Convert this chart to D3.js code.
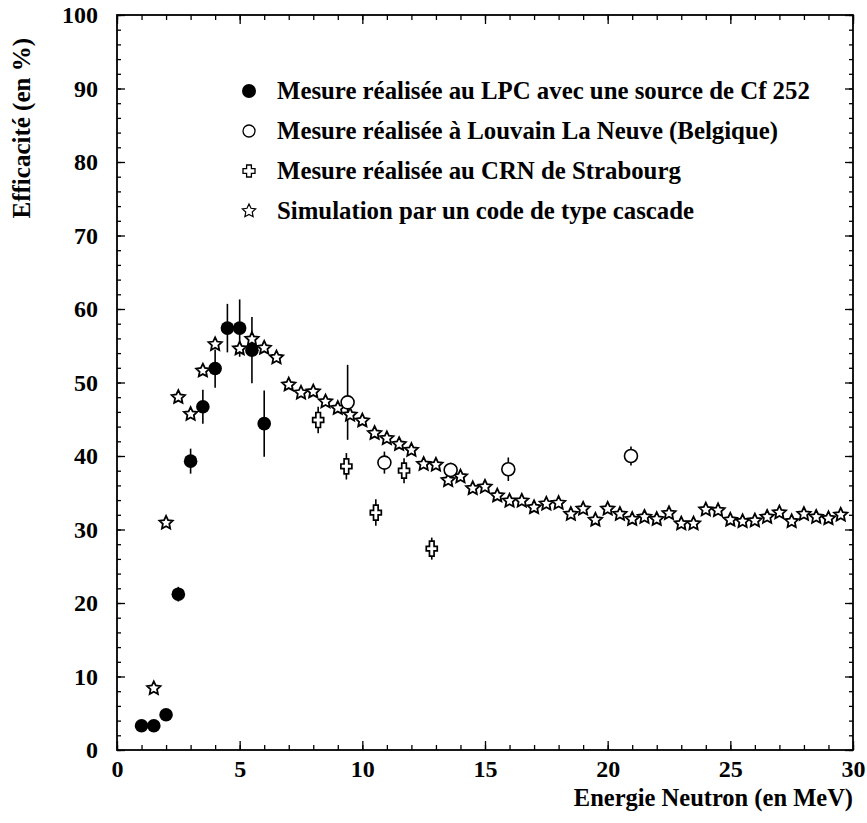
<!DOCTYPE html>
<html>
<head>
<meta charset="utf-8">
<script src="https://cdn.jsdelivr.net/npm/d3@7/dist/d3.min.js"></script>
<style>
  html, body { margin: 0; padding: 0; background: #fff; }
  svg { display: block; }
  text { font-family: "Liberation Serif", "Times New Roman", serif; font-weight: bold; fill: #000; }
</style>
</head>
<body>
<svg id="chart" width="867" height="823"></svg>
<script>
// ---- Data ----
const lpcE   = [1, 1.5, 2, 2.5, 3, 3.5, 4, 4.5, 5, 5.5, 6];
const lpcV   = [3.3, 3.3, 4.8, 21.2, 39.3, 46.7, 51.9, 57.4, 57.4, 54.4, 44.4];
const lpcErr = [0, 0, 0, 1.0, 1.7, 2.3, 2.6, 3.3, 3.9, 4.5, 4.5];

const louvE   = [9.4, 10.9, 13.6, 15.95, 20.95];
const louvV   = [47.3, 39.1, 38.1, 38.2, 40.0];
const louvErr = [5.1, 1.5, 1.0, 1.6, 1.3];

const crnE   = [8.2, 9.35, 10.55, 11.7, 12.83];
const crnV   = [44.9, 38.6, 32.3, 38.0, 27.4];
const crnErr = [1.8, 1.8, 1.8, 1.7, 1.5];

const simE = [1.5, 2, 2.5, 3, 3.5, 4, 5, 5.5, 6, 6.5, 7, 7.5, 8, 8.5, 9, 9.5, 10, 10.5, 11, 11.5, 12, 12.5,
              13, 13.5, 14, 14.5, 15, 15.5, 16, 16.5, 17, 17.5, 18, 18.5, 19, 19.5, 20, 20.5, 21, 21.5,
              22, 22.5, 23, 23.5, 24, 24.5, 25, 25.5, 26, 26.5, 27, 27.5, 28, 28.5, 29, 29.5];
const simV = [8.4, 30.9, 48.0, 45.7, 51.6, 55.2, 54.6, 55.9, 54.7, 53.4, 49.7, 48.6, 48.75, 47.4, 46.5, 45.6,
              44.8, 43.1, 42.4, 41.6, 40.8, 38.9, 38.8, 36.7, 37.2, 35.6, 35.8, 34.6, 33.9, 33.9, 33.0, 33.5,
              33.6, 32.1, 32.8, 31.3, 32.8, 32.1, 31.4, 31.7, 31.4, 32.2, 30.8, 30.8, 32.7, 32.6, 31.3, 31.1,
              31.2, 31.7, 32.3, 31.1, 32.1, 31.7, 31.5, 32.0];

const xTicks = [0, 5, 10, 15, 20, 25, 30];
const yTicks = [0, 10, 20, 30, 40, 50, 60, 70, 80, 90, 100];

const legendLabels = [
  "Mesure réalisée au LPC avec une source de Cf 252",
  "Mesure réalisée à Louvain La Neuve (Belgique)",
  "Mesure réalisée au CRN de Strabourg",
  "Simulation par un code de type cascade"
];
const xTitle = "Energie Neutron (en MeV)";
const yTitle = "Efficacité (en %)";

// ---- Layout ----
const svg = d3.select("#chart");
const L = 117, R = 853, T = 15, B = 750;
const x = d3.scaleLinear().domain([0, 30]).range([L, R]);
const y = d3.scaleLinear().domain([0, 100]).range([B, T]);

// Marker shapes
function starPath(ro, ri) {
  const p = d3.path();
  for (let i = 0; i < 10; i++) {
    const r = i % 2 === 0 ? ro : ri;
    const a = -Math.PI / 2 + i * Math.PI / 5;
    const px = r * Math.cos(a), py = r * Math.sin(a);
    if (i === 0) p.moveTo(px, py); else p.lineTo(px, py);
  }
  p.closePath();
  return p.toString();
}
function crossPath(w, h, t) {
  return `M${-t},${-h} L${t},${-h} L${t},${-t} L${w},${-t} L${w},${t} L${t},${t} L${t},${h} L${-t},${h} L${-t},${t} L${-w},${t} L${-w},${-t} L${-t},${-t} Z`;
}
const STAR = starPath(7, 3.4);
const CROSS = crossPath(5.5, 7.5, 2.3);
const CROSS_LEG = crossPath(6, 6, 2.4);

// ---- Axes (ticks inward on all four sides) ----
const fmt = d3.format("d");
const axG = svg.append("g");

function styleAxis(g) {
  g.select(".domain").remove();
  g.selectAll(".tick line").attr("stroke", "#000").attr("stroke-width", 1.3);
  g.selectAll("text").style("font-size", "24px").style("font-family", '"Liberation Serif", serif').style("font-weight", "bold");
}

// bottom
axG.append("g").attr("transform", `translate(0,${B})`)
  .call(d3.axisBottom(x).tickValues(d3.range(0, 31, 1)).tickSize(-5).tickFormat(""))
  .call(styleAxis);
axG.append("g").attr("transform", `translate(0,${B})`)
  .call(d3.axisBottom(x).tickValues(xTicks).tickSize(-9).tickPadding(10).tickFormat(fmt))
  .call(styleAxis);
// top
axG.append("g").attr("transform", `translate(0,${T})`)
  .call(d3.axisTop(x).tickValues(d3.range(0, 31, 1)).tickSize(-5).tickFormat(""))
  .call(styleAxis);
axG.append("g").attr("transform", `translate(0,${T})`)
  .call(d3.axisTop(x).tickValues(xTicks).tickSize(-9).tickFormat(""))
  .call(styleAxis);
// left
axG.append("g").attr("transform", `translate(${L},0)`)
  .call(d3.axisLeft(y).tickValues(d3.range(0, 101, 2)).tickSize(-4).tickFormat(""))
  .call(styleAxis);
axG.append("g").attr("transform", `translate(${L},0)`)
  .call(d3.axisLeft(y).tickValues(yTicks).tickSize(-8).tickPadding(19).tickFormat(fmt))
  .call(styleAxis);
// right
axG.append("g").attr("transform", `translate(${R},0)`)
  .call(d3.axisRight(y).tickValues(d3.range(0, 101, 2)).tickSize(-4).tickFormat(""))
  .call(styleAxis);
axG.append("g").attr("transform", `translate(${R},0)`)
  .call(d3.axisRight(y).tickValues(yTicks).tickSize(-8).tickFormat(""))
  .call(styleAxis);

// frame
svg.append("rect")
  .attr("x", x(0)).attr("y", y(100))
  .attr("width", x(30) - x(0)).attr("height", y(0) - y(100))
  .attr("fill", "none").attr("stroke", "#000").attr("stroke-width", 1.8);

// axis titles
svg.append("text")
  .attr("x", x(30)).attr("y", 806)
  .attr("text-anchor", "end")
  .style("font-size", "24.5px")
  .text(xTitle);
svg.append("text")
  .attr("transform", `translate(30,38) rotate(-90)`)
  .attr("text-anchor", "end")
  .style("font-size", "25px")
  .text(yTitle);

// ---- Data marks ----
const plot = svg.append("g");

function errorBars(E, V, Er) {
  plot.append("g").selectAll("line")
    .data(E.map((e, i) => ({ e, v: V[i], er: Er[i] })).filter(d => d.er > 0))
    .join("line")
    .attr("x1", d => x(d.e)).attr("x2", d => x(d.e))
    .attr("y1", d => y(d.v - d.er)).attr("y2", d => y(d.v + d.er))
    .attr("stroke", "#000").attr("stroke-width", 1.6);
}
errorBars(lpcE, lpcV, lpcErr);
errorBars(louvE, louvV, louvErr);
errorBars(crnE, crnV, crnErr);

// simulation stars
plot.append("g").selectAll("path")
  .data(simE.map((e, i) => ({ e, v: simV[i] })))
  .join("path")
  .attr("d", STAR)
  .attr("transform", d => `translate(${x(d.e)},${y(d.v)})`)
  .attr("fill", "#fff").attr("stroke", "#000").attr("stroke-width", 1.8).attr("stroke-linejoin", "miter");

// LPC filled circles
plot.append("g").selectAll("circle")
  .data(lpcE.map((e, i) => ({ e, v: lpcV[i] })))
  .join("circle")
  .attr("cx", d => x(d.e)).attr("cy", d => y(d.v)).attr("r", 6.8)
  .attr("fill", "#000");

// CRN crosses
plot.append("g").selectAll("path")
  .data(crnE.map((e, i) => ({ e, v: crnV[i] })))
  .join("path")
  .attr("d", CROSS)
  .attr("transform", d => `translate(${x(d.e)},${y(d.v)})`)
  .attr("fill", "#fff").attr("stroke", "#000").attr("stroke-width", 1.7);

// Louvain open circles
plot.append("g").selectAll("circle")
  .data(louvE.map((e, i) => ({ e, v: louvV[i] })))
  .join("circle")
  .attr("cx", d => x(d.e)).attr("cy", d => y(d.v)).attr("r", 6.5)
  .attr("fill", "#fff").attr("stroke", "#000").attr("stroke-width", 1.6);

// ---- Legend ----
const legY = [91, 131, 171, 211];
const legMX = 249, legTX = 277;
const leg = svg.append("g");
leg.append("circle").attr("cx", legMX).attr("cy", legY[0]).attr("r", 7).attr("fill", "#000");
leg.append("circle").attr("cx", legMX).attr("cy", legY[1]).attr("r", 6).attr("fill", "#fff").attr("stroke", "#000").attr("stroke-width", 1.3);
leg.append("path").attr("d", CROSS_LEG).attr("transform", `translate(${legMX},${legY[2]})`).attr("fill", "#fff").attr("stroke", "#000").attr("stroke-width", 1.3);
leg.append("path").attr("d", STAR).attr("transform", `translate(${legMX},${legY[3]})`).attr("fill", "#fff").attr("stroke", "#000").attr("stroke-width", 1.2);
leg.selectAll("text")
  .data(legendLabels)
  .join("text")
  .attr("x", legTX)
  .attr("y", (d, i) => legY[i] + 8)
  .style("font-size", "24.8px")
  .text(d => d);
</script>
</body>
</html>
